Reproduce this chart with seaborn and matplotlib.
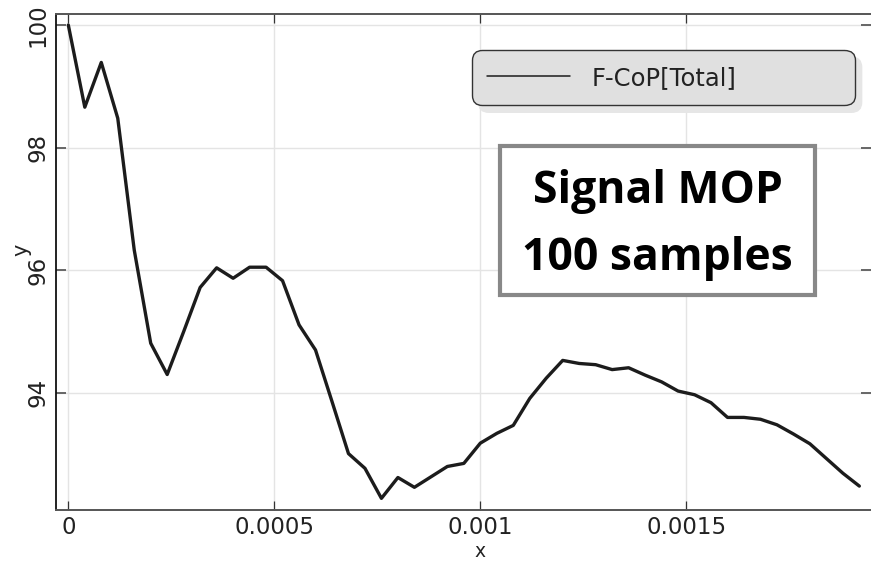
import numpy as np
import pandas as pd
import matplotlib
matplotlib.use("Agg")
import matplotlib.pyplot as plt
from matplotlib.lines import Line2D
from matplotlib.patches import Rectangle, Shadow
import seaborn as sns

# Sample positions (x) and measured total F-CoP signal (y)
x_values = [0.0, 0.00004, 0.00008, 0.00012, 0.00016, 0.0002, 0.00024, 0.00028,
            0.00032, 0.00036, 0.0004, 0.00044, 0.00048, 0.00052, 0.00056, 0.0006,
            0.00064, 0.00068, 0.00072, 0.00076, 0.0008, 0.00084, 0.00088, 0.00092,
            0.00096, 0.001, 0.00104, 0.00108, 0.00112, 0.00116, 0.0012, 0.00124,
            0.00128, 0.00132, 0.00136, 0.0014, 0.00144, 0.00148, 0.00152, 0.00156,
            0.0016, 0.00164, 0.00168, 0.00172, 0.00176, 0.0018, 0.00184, 0.00188,
            0.00192]
y_values = [100.0, 98.66, 99.39, 98.48, 96.33, 94.81, 94.30, 95.00,
            95.72, 96.04, 95.87, 96.05, 96.05, 95.83, 95.11, 94.70,
            93.86, 93.01, 92.77, 92.28, 92.62, 92.46, 92.63, 92.80,
            92.85, 93.18, 93.34, 93.47, 93.91, 94.24, 94.53, 94.48,
            94.46, 94.38, 94.41, 94.29, 94.18, 94.03, 93.97, 93.84,
            93.60, 93.60, 93.57, 93.48, 93.33, 93.17, 92.93, 92.69,
            92.48]

series_label = "F-CoP[Total]"
x_ticks = [0, 0.0005, 0.001, 0.0015]
x_tick_labels = ["0", "0.0005", "0.001", "0.0015"]
y_ticks = [94, 96, 98, 100]
y_tick_labels = ["94", "96", "98", "100"]
note_lines = ["Signal MOP", "100 samples"]

df = pd.DataFrame({"x": x_values, "y": y_values})

sns.set_theme(style="white")
plt.rcParams["font.family"] = ["DejaVu Sans"]

W, H = 871, 562
fig = plt.figure(figsize=(W / 100, H / 100), dpi=100)
ax = fig.add_axes([56 / W, 52 / H, 1 - 56 / W, 496 / H])

sns.lineplot(data=df, x="x", y="y", ax=ax, color="#1c1c1c", linewidth=2.4,
             label=series_label, legend=False)

ax.set_xlim(-2.99e-5, 0.0019483)
ax.set_ylim(92.09, 100.18)

ax.set_xticks(x_ticks)
ax.set_xticklabels(x_tick_labels)
ax.set_yticks(y_ticks)
ax.set_yticklabels(y_tick_labels, rotation=90, va="center")

ax.grid(True, color="#e4e4e4", linewidth=1.0)
ax.set_axisbelow(True)

ax.tick_params(axis="x", which="both", direction="in", length=6.5, width=0.9,
               color="#333333", top=True, bottom=True, labelsize=16.5,
               labelcolor="#222222", pad=4)
ax.tick_params(axis="y", which="both", direction="in", length=7, width=1.4,
               color="#666666", left=True, right=True, labelsize=16.5,
               labelcolor="#222222", pad=5)

for side, col, lw in [("left", "#111111", 1.3), ("top", "#555555", 1.4),
                      ("bottom", "#555555", 1.4)]:
    ax.spines[side].set_color(col)
    ax.spines[side].set_linewidth(lw)
ax.spines["right"].set_visible(False)

ax.set_xlabel("x", fontsize=13.5, color="#222222")
ax.xaxis.label.set_verticalalignment("baseline")
ax.xaxis.set_label_coords(0.52, -0.0948)
ax.set_ylabel("y", fontsize=15, color="#222222")
ax.yaxis.set_label_coords(-0.030, 0.525)

# Legend with a rounded grey frame and a soft offset shadow
handle = Line2D([], [], color="#1c1c1c", linewidth=1.1)
leg = ax.legend([handle], [series_label], loc="upper left",
                bbox_to_anchor=(0.510, 0.819, 0.470, 0.108), mode="expand",
                fontsize=17.5, frameon=True, fancybox=True, borderpad=0.64,
                handlelength=3.4, handletextpad=0.9, borderaxespad=0)
frame = leg.get_frame()
frame.set_facecolor("#e0e0e0")
frame.set_edgecolor("#333333")
frame.set_linewidth(1.0)
frame.set_alpha(1.0)
frame.set_boxstyle("round", pad=0, rounding_size=0.42)
for t in leg.get_texts():
    t.set_color("#222222")
shadow = Shadow(frame, 5, -5, color="#e6e6e6", alpha=1.0, zorder=4.9)
ax.add_artist(shadow)

# Boxed annotation
ax.add_patch(Rectangle((0.5448, 0.4335), 0.9313 - 0.5448, 0.7339 - 0.4335,
                       transform=ax.transAxes, facecolor="white",
                       edgecolor="#888888", linewidth=3.0, zorder=6))
for txt, yb in zip(note_lines, [0.619, 0.484]):
    ax.text(0.738, yb, txt, transform=ax.transAxes, ha="center", va="baseline",
            fontsize=32, fontweight="bold", family=["Open Sans", "DejaVu Sans"],
            color="black", zorder=7)

fig.canvas.draw()
fig.savefig("out.png", dpi=100)
